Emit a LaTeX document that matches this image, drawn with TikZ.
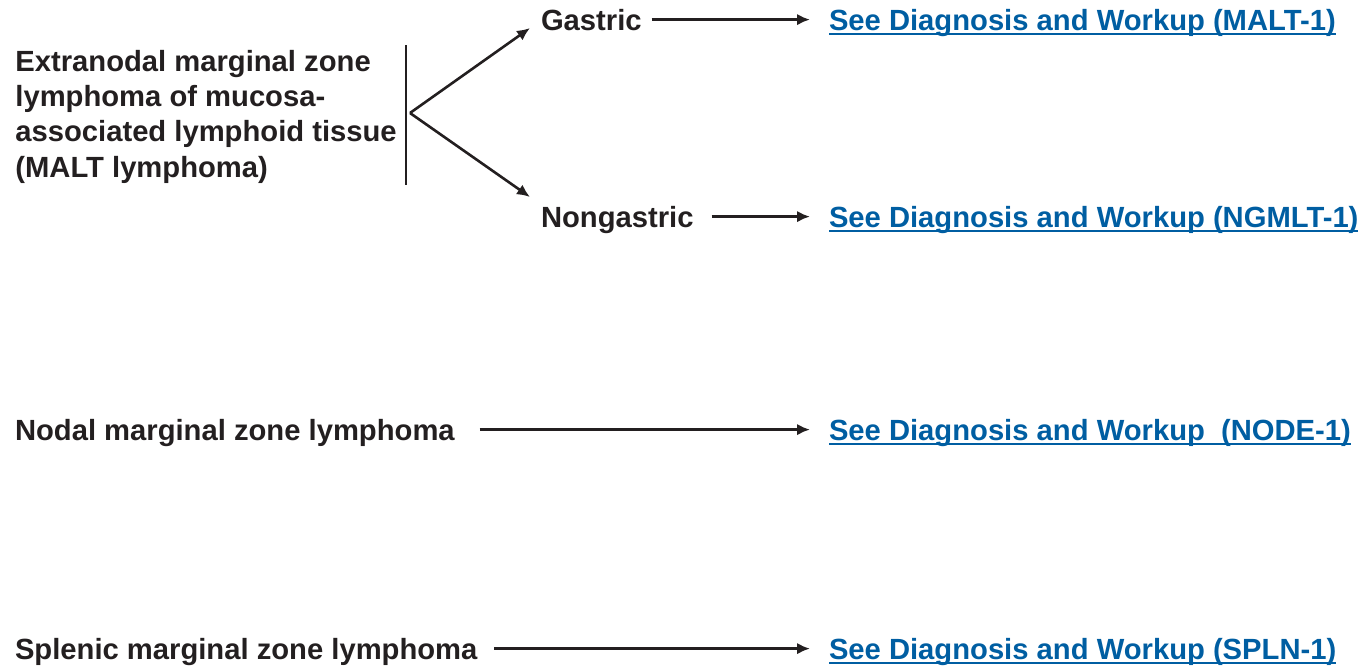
\documentclass[tikz,border=0pt]{standalone}
\usepackage{fontspec}
\setmainfont{Liberation Sans}
\usetikzlibrary{arrows.meta}
\definecolor{linkblue}{RGB}{0,94,162}
\definecolor{ink}{RGB}{35,31,32}
\begin{document}
\begin{tikzpicture}[x=0.5pt,y=-0.5pt,
  basefont/.style={font=\fontsize{14.6}{17.65}\selectfont\bfseries},
  txt/.style={basefont, inner sep=0pt, outer sep=0pt, text height=10.4pt, text depth=0pt, anchor=base west, text=ink},
  lnk/.style={txt, text=linkblue},
  arr/.style={-{Latex[length=6.5pt,width=5.8pt]}, line width=1.3pt, draw=ink},
  ul/.style={draw=linkblue, line width=1pt}]
\useasboundingbox (0,0) rectangle (1364,670);

% MALT lymphoma block (anchored on the baseline of its last line)
\node[basefont, align=left, anchor=base west, inner sep=0pt, text=ink] (ext) at (15,177)
  {Extranodal marginal zone\\lymphoma of mucosa-\\associated lymphoid tissue\\(MALT lymphoma)};
\coordinate (bartop) at (406,45);
\coordinate (barbot) at (406,185);
\coordinate (apex) at (410,113);
\draw[line width=1.1pt, ink] (bartop) -- (barbot);

\node[txt] (gas) at (541,30) {Gastric};
\node[txt] (ngas) at (541,227) {Nongastric};
\draw[arr] (apex) -- ([shift={(-11,-2)}]gas.base west);
\draw[arr] (apex) -- ([shift={(-11,-30)}]ngas.base west);

% diagnosis links
\node[lnk] (malt) at (829,30) {See Diagnosis and Workup (MALT-1)};
\node[lnk] (ngmlt) at (829,227) {See Diagnosis and Workup (NGMLT-1)};
\node[lnk] (node) at (829,440) {See Diagnosis and Workup\ \ (NODE-1)};
\node[lnk] (spln) at (829,659) {See Diagnosis and Workup (SPLN-1)};
\foreach \n in {malt,ngmlt,node,spln}
  \draw[ul] ([yshift=-2pt]\n.base west) -- ([yshift=-2pt]\n.base east);

\node[txt] (nodal) at (15,440) {Nodal marginal zone lymphoma};
\node[txt] (splen) at (15,659) {Splenic marginal zone lymphoma};

\draw[arr, shorten <=5pt, shorten >=9.5pt] (gas.east) -- (malt.west |- gas.east);
\draw[arr, shorten <=9pt, shorten >=9.5pt] (ngas.east) -- (ngmlt.west |- ngas.east);
\draw[arr, shorten <=12.5pt, shorten >=9.5pt] (nodal.east) -- (node.west |- nodal.east);
\draw[arr, shorten <=8.5pt, shorten >=9.5pt] (splen.east) -- (spln.west |- splen.east);
\end{tikzpicture}
\end{document}
